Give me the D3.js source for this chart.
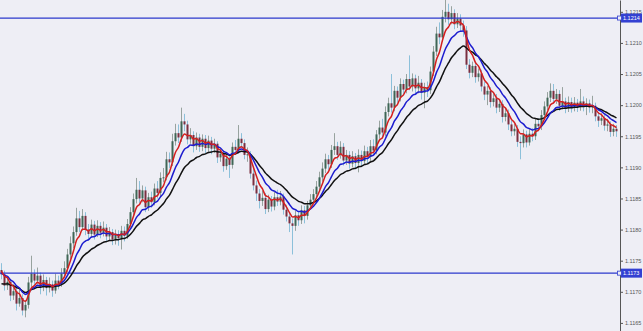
<!DOCTYPE html>
<html>
<head>
<meta charset="utf-8">
<script src="https://cdn.jsdelivr.net/npm/d3@7"></script>
<style>
  html, body { margin: 0; padding: 0; background: #eeeef5; }
  svg { display: block; }
</style>
</head>
<body>
<div id="chart"></div>
<script>
// prices are stored as pips above basePrice
const basePrice = 1.1160;
const firstOpen = 13.5;

const closes = [
  12.8, 11.0, 11.6, 9.4, 10.1, 8.1, 9.0, 7.0, 7.9, 11.5,
  12.9, 11.8, 12.6, 10.7, 11.9, 10.6, 11.2, 10.2, 11.8, 11.3,
  12.9, 13.8, 16.0, 17.8, 19.6, 21.8, 20.4, 22.2, 20.0, 19.3,
  20.8, 19.2, 20.6, 19.5, 20.3, 18.9, 19.6, 18.4, 19.3, 18.6,
  19.8, 19.0, 20.9, 22.8, 24.9, 26.4, 25.0, 26.3, 23.6, 25.2,
  24.4, 26.6, 25.9, 28.3, 28.4, 31.3, 30.8, 34.2, 35.5, 34.8,
  37.4, 36.9, 34.5, 35.2, 33.4, 34.8, 33.3, 34.6, 33.1, 34.3,
  33.0, 33.8, 31.6, 32.2, 30.2, 31.4, 30.4, 33.3, 32.8, 34.6,
  33.9, 32.0, 32.1, 29.0, 27.1, 25.8, 24.6, 25.1, 23.3, 24.8,
  23.7, 25.2, 24.5, 25.3, 23.2, 22.1, 21.0, 20.6, 22.3, 21.5,
  23.1, 22.2, 23.9, 24.8, 25.7, 26.9, 28.4, 29.8, 31.3, 30.5,
  32.8, 33.4, 32.0, 33.3, 31.1, 32.0, 30.6, 31.8, 30.7, 32.0,
  31.0, 32.6, 31.7, 33.4, 32.7, 35.3, 36.4, 35.6, 38.9, 40.3,
  39.6, 42.3, 41.2, 43.4, 42.5, 44.2, 43.0, 44.3, 42.7, 43.6,
  42.0, 42.9, 42.4, 45.4, 48.6, 51.5, 50.9, 54.2, 55.0, 53.8,
  54.8, 53.0, 53.9, 52.8, 52.0, 46.5, 45.2, 46.3, 44.5, 45.1,
  43.0, 41.7, 42.3, 40.5, 41.1, 39.6, 40.2, 38.1, 38.7, 36.9,
  35.8, 36.2, 34.1, 33.9, 35.3, 34.0, 35.4, 35.0, 37.0, 36.6,
  38.4, 39.8, 41.2, 42.3, 41.0, 41.8, 39.9, 40.6, 39.5, 40.5,
  39.6, 40.4, 39.7, 40.6, 39.8, 40.3, 39.6, 39.9, 38.2, 37.5,
  37.9, 36.7, 36.9, 35.7, 36.2, 35.8
];

const highs = [
  14.6, 13.4, 12.5, 12.0, 11.2, 10.6, 10.3, 9.6, 8.7, 12.4,
  15.8, 13.6, 13.9, 13.1, 12.8, 12.4, 12.3, 11.8, 12.9, 12.6,
  13.8, 14.9, 16.9, 18.9, 20.5, 23.5, 23.0, 23.3, 22.8, 20.9,
  21.6, 21.4, 21.5, 21.2, 21.3, 20.9, 20.4, 20.1, 20.0, 19.9,
  20.6, 20.5, 21.7, 23.6, 25.8, 28.3, 27.8, 27.1, 26.9, 25.9,
  26.1, 27.4, 27.8, 29.2, 29.9, 32.5, 32.4, 35.4, 37.0, 36.9,
  39.6, 38.6, 37.5, 36.3, 35.8, 35.6, 35.4, 35.3, 35.2, 35.1,
  34.9, 34.6, 34.2, 33.1, 32.8, 32.1, 32.0, 34.0, 34.4, 36.8,
  35.5, 34.5, 33.2, 32.6, 29.8, 27.9, 26.5, 26.3, 25.9, 25.6,
  25.4, 26.1, 26.4, 26.2, 25.8, 24.0, 22.8, 21.8, 23.1, 23.0,
  23.9, 23.8, 24.6, 25.7, 26.5, 27.8, 29.3, 30.8, 32.2, 32.0,
  33.6, 35.5, 34.1, 34.2, 33.9, 32.8, 32.6, 32.6, 32.3, 32.9,
  32.7, 33.5, 33.3, 34.4, 34.5, 36.0, 37.5, 37.8, 39.8, 41.2,
  45.0, 43.1, 43.0, 44.3, 44.1, 45.0, 48.0, 45.1, 44.9, 44.7,
  44.2, 43.6, 43.8, 46.2, 49.5, 52.6, 53.3, 55.3, 56.9, 56.3,
  55.9, 55.4, 54.8, 54.6, 53.6, 52.7, 47.4, 47.0, 46.9, 45.9,
  45.7, 43.8, 43.1, 42.9, 42.0, 41.8, 41.0, 40.8, 39.6, 39.3,
  37.6, 37.0, 36.8, 35.0, 36.1, 35.9, 36.2, 36.3, 37.8, 37.9,
  39.2, 40.6, 42.1, 43.5, 43.4, 42.6, 42.4, 42.9, 41.2, 41.4,
  41.2, 41.3, 41.0, 42.6, 41.4, 41.1, 40.9, 41.5, 40.4, 38.9,
  38.7, 38.4, 37.8, 37.4, 37.0, 36.8
];

const lows = [
  12.0, 10.2, 10.3, 8.5, 8.7, 7.0, 7.6, 6.2, 5.9, 7.3,
  10.8, 11.0, 11.2, 9.6, 10.1, 9.4, 9.9, 9.2, 9.7, 10.4,
  10.8, 12.3, 13.2, 15.3, 17.0, 19.0, 19.6, 19.8, 19.1, 18.2,
  18.7, 18.4, 18.8, 18.6, 18.9, 18.0, 18.2, 17.5, 17.6, 17.4,
  16.8, 18.1, 18.5, 20.3, 22.1, 24.2, 24.3, 24.4, 22.8, 23.0,
  23.5, 23.9, 25.0, 25.3, 27.6, 27.9, 29.9, 30.2, 33.5, 33.9,
  34.1, 35.8, 33.7, 33.8, 32.4, 32.8, 32.5, 32.6, 32.3, 32.5,
  32.1, 32.3, 30.7, 30.9, 29.3, 29.6, 28.3, 29.8, 32.0, 32.2,
  33.1, 31.3, 30.9, 28.2, 26.3, 24.6, 23.4, 23.8, 22.5, 22.8,
  22.9, 23.1, 23.8, 23.9, 22.4, 21.3, 19.6, 16.0, 19.8, 20.6,
  20.9, 21.0, 21.6, 23.3, 24.1, 25.0, 26.2, 27.7, 29.1, 29.6,
  29.9, 32.0, 31.2, 31.4, 30.3, 30.4, 29.8, 30.0, 29.7, 29.2,
  30.1, 30.4, 30.6, 31.0, 31.9, 32.1, 34.6, 34.7, 35.0, 38.2,
  38.8, 39.0, 40.4, 40.6, 41.7, 41.9, 42.4, 42.2, 41.6, 41.9,
  40.9, 39.5, 41.3, 41.8, 44.7, 47.9, 49.8, 50.2, 53.3, 52.9,
  53.0, 52.2, 52.4, 51.8, 51.0, 45.8, 44.3, 44.5, 43.6, 43.8,
  42.2, 40.8, 40.0, 39.6, 39.8, 38.7, 38.9, 37.2, 37.4, 36.0,
  35.0, 35.1, 33.3, 31.3, 33.2, 33.2, 33.5, 34.2, 34.4, 35.8,
  36.0, 37.7, 39.2, 40.5, 40.3, 40.2, 39.1, 39.3, 38.7, 38.9,
  38.8, 39.0, 38.9, 39.1, 39.0, 38.4, 38.8, 38.7, 37.4, 36.5,
  36.8, 35.9, 35.8, 34.9, 35.0, 34.9
];

// moving averages: period and value at the left edge (pips)
const maFast = { period: 5, start: 13.5, color: '#d41f1f' };
const maMid = { period: 10, start: 13.1, color: '#1c1ccf' };
const maSlow = { period: 18, start: 11.1, color: '#111111' };

const priceTicks = [1.1165, 1.1170, 1.1175, 1.1180, 1.1185, 1.1190, 1.1195, 1.1200, 1.1205, 1.1210, 1.1215];
const levels = [1.1214, 1.1173];

const width = 643, height = 331, plotRight = 620;
const toPrice = (p) => basePrice + p / 10000;

const bars = closes.map((c, i) => ({
    open: toPrice(i ? closes[i - 1] : firstOpen),
    close: toPrice(c),
    high: toPrice(highs[i]),
    low: toPrice(lows[i])
}));

const x = d3.scaleBand().domain(d3.range(bars.length)).range([0, 618]);
const y = d3.scaleLinear().domain([1.11637, 1.12169]).range([height, 0]);
const cx = (i) => x(i) + x.bandwidth() / 2;
const isUp = (d) => d.close >= d.open;

const ema = (ma) => {
    const a = 2 / (ma.period + 1);
    let e = toPrice(ma.start);
    return bars.map((b) => (e = e + a * (b.close - e)));
};

const svg = d3.select('#chart').append('svg')
    .attr('width', width)
    .attr('height', height);

svg.append('rect')
    .attr('width', width)
    .attr('height', height)
    .attr('fill', '#eeeef5');

// candles
const candles = svg.append('g').selectAll('g')
    .data(bars)
    .enter().append('g');

candles.append('line')
    .attr('x1', (d, i) => cx(i))
    .attr('x2', (d, i) => cx(i))
    .attr('y1', (d) => y(d.high))
    .attr('y2', (d) => y(d.low))
    .attr('stroke', (d) => isUp(d) ? '#98a39f' : '#8cc0da')
    .attr('stroke-width', 1);

candles.append('rect')
    .attr('x', (d, i) => cx(i) - 1)
    .attr('width', 2)
    .attr('y', (d) => y(Math.max(d.open, d.close)))
    .attr('height', (d) => Math.max(1, Math.abs(y(d.open) - y(d.close))))
    .attr('fill', (d) => isUp(d) ? '#3f6656' : '#7a2e40');

// horizontal levels
svg.append('g').selectAll('line')
    .data(levels)
    .enter().append('line')
    .attr('x1', 0)
    .attr('x2', plotRight)
    .attr('y1', (d) => y(d))
    .attr('y2', (d) => y(d))
    .attr('stroke', '#2b38cc')
    .attr('stroke-width', 1.3);

// moving averages
const line = d3.line()
    .x((d, i) => cx(i))
    .y((d) => y(d))
    .curve(d3.curveMonotoneX);

[maSlow, maMid, maFast].forEach((ma) => {
    svg.append('path')
        .datum(ema(ma))
        .attr('d', line)
        .attr('fill', 'none')
        .attr('stroke', ma.color)
        .attr('stroke-width', 1.5);
});

// price axis
const axis = svg.append('g')
    .attr('transform', 'translate(' + plotRight + ',0)')
    .call(d3.axisRight(y)
        .tickValues(priceTicks)
        .tickFormat(d3.format('.4f'))
        .tickSize(3)
        .tickSizeOuter(0)
        .tickPadding(2));

axis.select('.domain').attr('stroke', '#555');
axis.selectAll('.tick line').attr('stroke', '#555');
axis.selectAll('.tick text')
    .attr('fill', '#555')
    .style('font-family', '"Liberation Sans", Arial, sans-serif')
    .style('font-size', '5.5px');

// level price tags
const tags = svg.append('g').selectAll('g')
    .data(levels)
    .enter().append('g')
    .attr('transform', (d) => 'translate(' + plotRight + ',' + y(d) + ')');

tags.append('rect')
    .attr('x', 1)
    .attr('y', -4.5)
    .attr('width', 21)
    .attr('height', 9)
    .attr('fill', '#3340d2');

tags.append('rect')
    .attr('x', -2.5)
    .attr('y', -2)
    .attr('width', 4)
    .attr('height', 4)
    .attr('fill', '#eeeef5')
    .attr('stroke', '#3340d2')
    .attr('stroke-width', 0.8);

tags.append('text')
    .attr('x', 3)
    .attr('y', 2)
    .attr('fill', '#fff')
    .style('font-family', '"Liberation Sans", Arial, sans-serif')
    .style('font-size', '5.5px')
    .text((d) => d3.format('.4f')(d));
</script>
</body>
</html>
